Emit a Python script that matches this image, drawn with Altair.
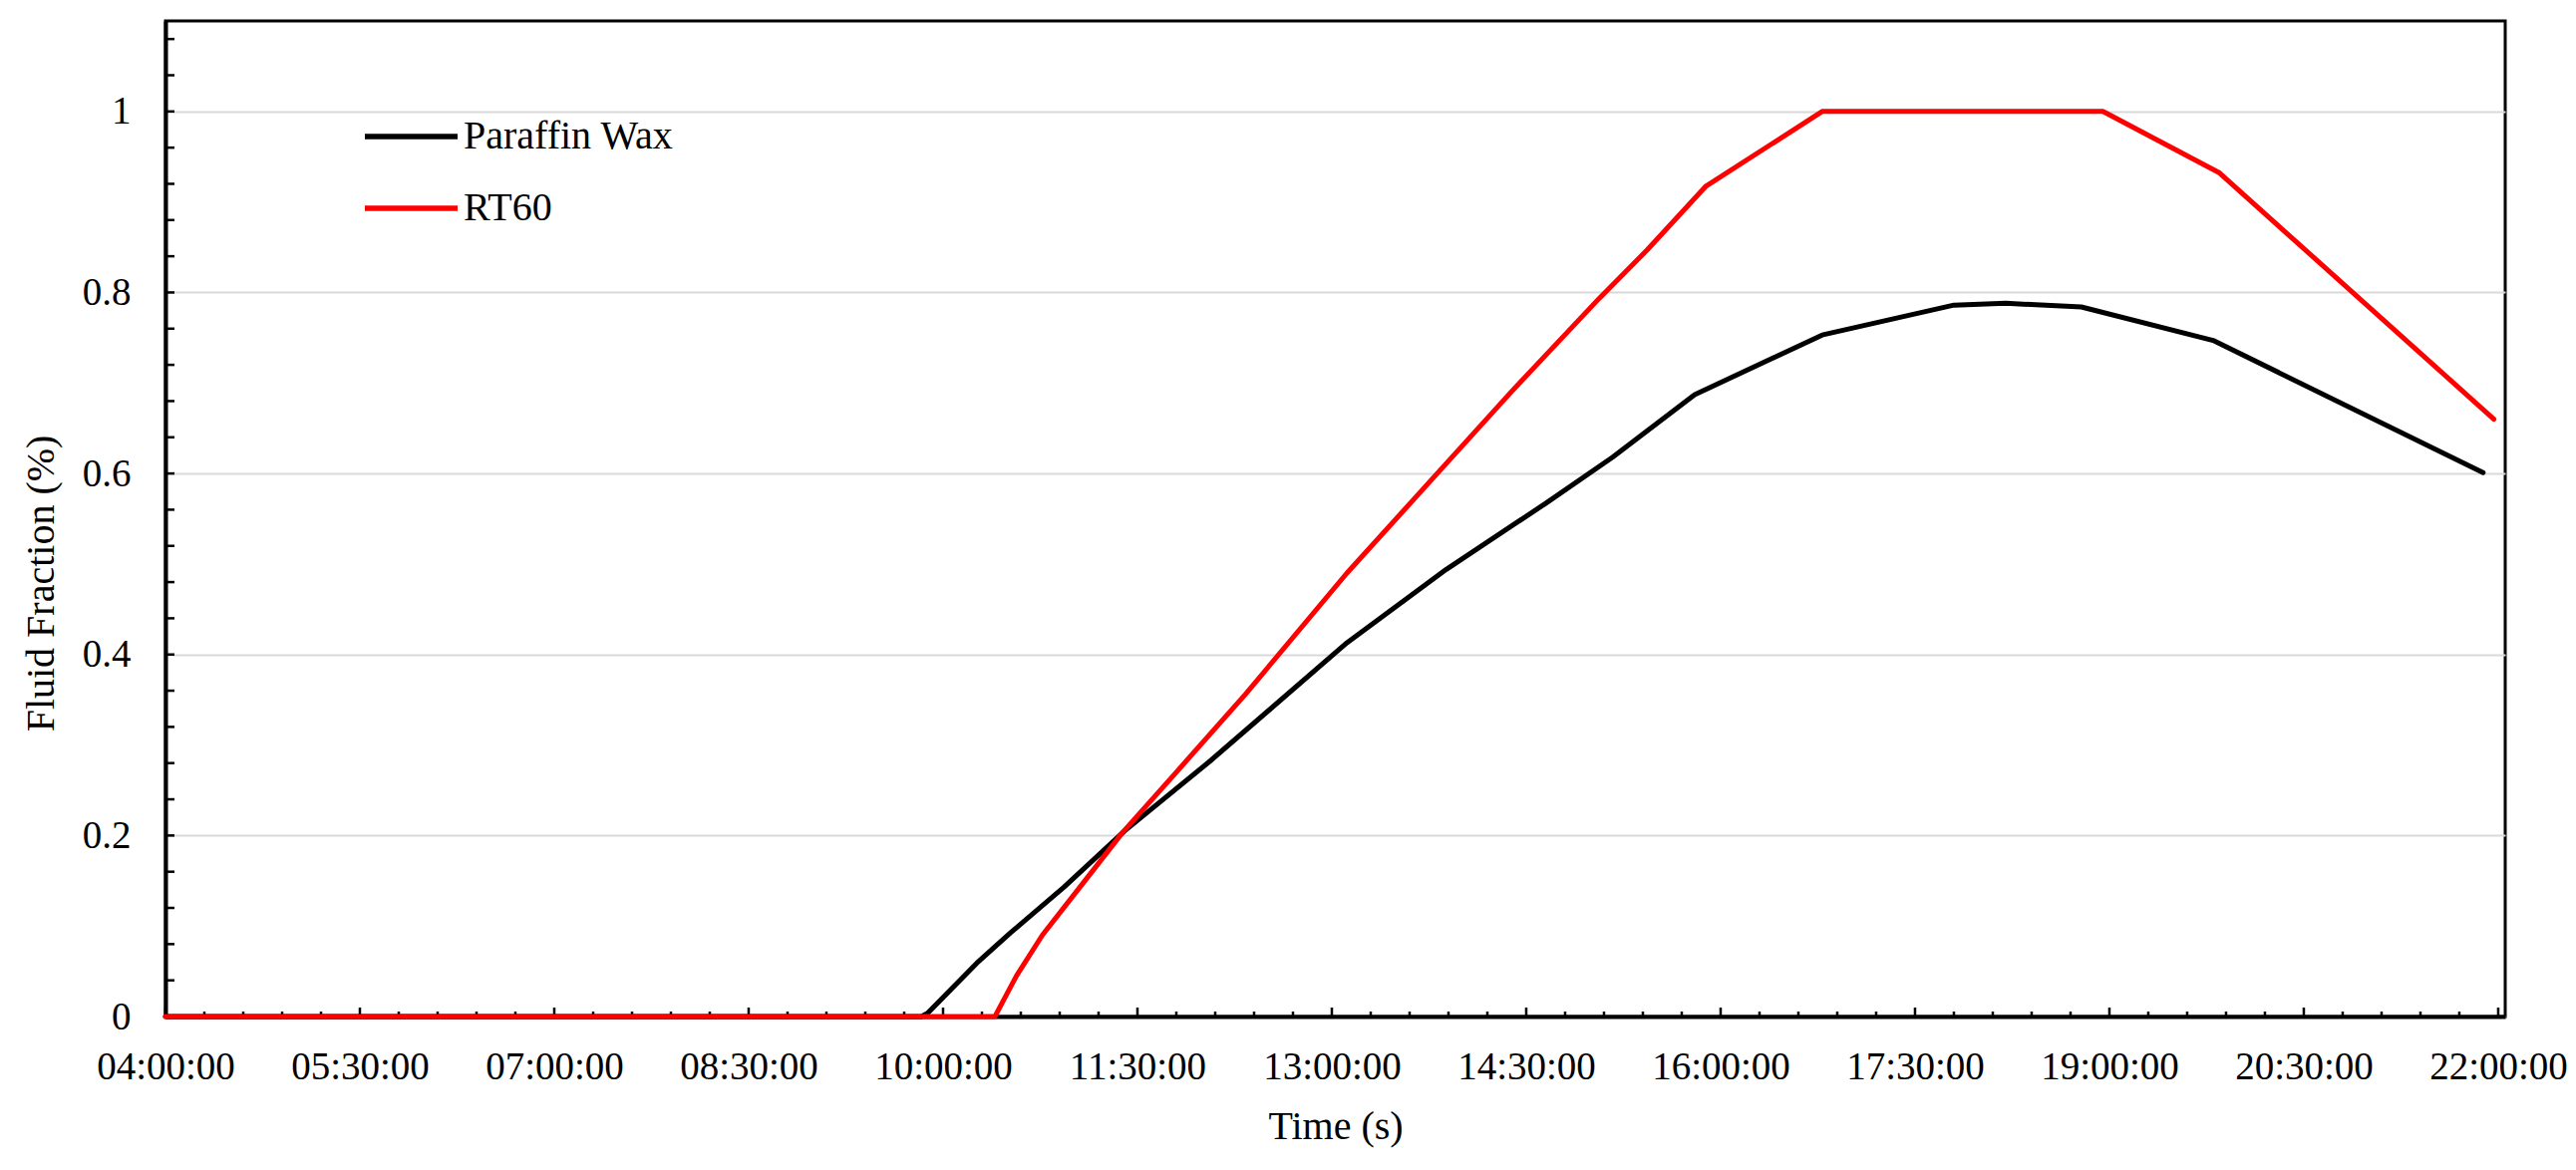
import altair as alt
import pandas as pd

# ---- data ----
pw_times = ["04:00:00", "09:50:00", "09:53:00", "10:15:36", "10:31:00", "10:56:00",
            "11:24:00", "12:04:00", "12:20:00", "13:07:00", "13:53:00", "14:39:00",
            "15:10:00", "15:48:00", "16:47:00", "17:48:00", "18:12:00", "18:47:00",
            "19:48:00", "21:53:00"]
pw_values = [0, 0, 0.004, 0.059, 0.092, 0.143,
             0.205, 0.283, 0.316, 0.413, 0.494, 0.567,
             0.618, 0.687, 0.753, 0.786, 0.788, 0.784,
             0.747, 0.601]

rt_times = ["04:00:00", "10:24:00", "10:34:00", "10:46:00", "11:05:00", "11:23:00",
            "11:48:00", "12:20:00", "13:07:00", "13:45:00", "14:23:00",
            "15:04:00", "15:26:00", "15:53:00", "16:47:00", "18:57:00", "19:51:00",
            "21:58:00"]
rt_values = [0, 0, 0.045, 0.090, 0.148, 0.203,
             0.270, 0.356, 0.490, 0.590, 0.690,
             0.794, 0.847, 0.917, 1.0, 1.0, 0.932,
             0.660]

series_names = ["Paraffin Wax", "RT60"]
series_colors = ["#000000", "#ff0000"]

x_tick_labels = ["04:00:00", "05:30:00", "07:00:00", "08:30:00", "10:00:00", "11:30:00",
                 "13:00:00", "14:30:00", "16:00:00", "17:30:00", "19:00:00", "20:30:00",
                 "22:00:00"]
y_tick_values = [0, 0.2, 0.4, 0.6, 0.8, 1.0]


def to_sec(s):
    h, m, sec = map(int, s.split(":"))
    return h * 3600 + m * 60 + sec


rows = []
for t, v in zip(pw_times, pw_values):
    rows.append({"sec": to_sec(t), "frac": v, "series": series_names[0]})
for t, v in zip(rt_times, rt_values):
    rows.append({"sec": to_sec(t), "frac": v, "series": series_names[1]})
df = pd.DataFrame(rows)

x_major = [to_sec(s) for s in x_tick_labels]
x_minor = [x_major[0] + k * 1080 for k in range(0, 61) if k % 5 != 0]
y_minor = [round(k * 0.04, 2) for k in range(1, 28)]

FONT = "Liberation Serif"
W, H = 2347, 999
x_scale = alt.Scale(domain=[14400, 79395], nice=False, zero=False)
y_scale = alt.Scale(domain=[0, 1.1], nice=False)

x_axis = alt.Axis(values=x_major,
                  labelExpr="utcFormat(datum.value*1000, '%H:%M:%S')",
                  title="Time (s)", grid=False, ticks=False, tickSize=0,
                  labelPadding=31, labelFontSize=39, titleFontSize=40,
                  titleY=90, titleBaseline="top",
                  domainColor="black", domainWidth=4,
                  labelColor="black", titleColor="black",
                  titleFontWeight="normal", labelFlush=False,
                  labelOverlap=False)
y_axis = alt.Axis(values=y_tick_values, format="~g",
                  title="Fluid Fraction (%)", grid=True,
                  gridColor="#d9d9d9", gridWidth=2,
                  ticks=False, tickSize=0, labelPadding=35,
                  labelFontSize=39, titleFontSize=40,
                  titleX=-125, titleY=564, titleAngle=270,
                  titleAlign="center", titleBaseline="middle",
                  domainColor="black", domainWidth=4,
                  labelColor="black", titleColor="black",
                  titleFontWeight="normal", labelFlush=False)

lines = alt.Chart(df).mark_line(strokeWidth=5, strokeCap="round", strokeJoin="round").encode(
    x=alt.X("sec:Q", scale=x_scale, axis=x_axis),
    y=alt.Y("frac:Q", scale=y_scale, axis=y_axis),
    color=alt.Color("series:N",
                    scale=alt.Scale(domain=series_names, range=series_colors),
                    legend=alt.Legend(title=None, orient="none", legendX=197, legendY=96,
                                      symbolType="stroke", symbolSize=8649,
                                      symbolStrokeWidth=5.5, labelFontSize=40,
                                      labelFont=FONT, labelColor="black",
                                      labelLimit=0,
                                      clipHeight=40, rowPadding=32, labelOffset=3,
                                      padding=0, direction="vertical")),
)

xt_major = alt.Chart(pd.DataFrame({"sec": x_major})).mark_rule(color="black", strokeWidth=2.5).encode(
    x=alt.X("sec:Q", scale=x_scale, axis=x_axis),
    y=alt.value(H), y2=alt.value(H - 9))
xt_minor = alt.Chart(pd.DataFrame({"sec": x_minor})).mark_rule(color="black", strokeWidth=2.5).encode(
    x=alt.X("sec:Q", scale=x_scale, axis=x_axis),
    y=alt.value(H), y2=alt.value(H - 5))
yt = alt.Chart(pd.DataFrame({"frac": y_minor})).mark_rule(color="black", strokeWidth=2.5).encode(
    y=alt.Y("frac:Q", scale=y_scale, axis=y_axis),
    x=alt.value(0), x2=alt.value(9))

chart = alt.layer(xt_major, xt_minor, yt, lines).properties(
    width=W, height=H,
    padding={"left": 158, "top": 13, "right": 63, "bottom": 146},
    autosize=alt.AutoSizeParams(type="none"),
).configure(font=FONT).configure_view(stroke="black", strokeWidth=3).configure_axis(
    labelFont=FONT, titleFont=FONT)

chart.save("out.html", embed_options={"renderer": "svg", "actions": False})
